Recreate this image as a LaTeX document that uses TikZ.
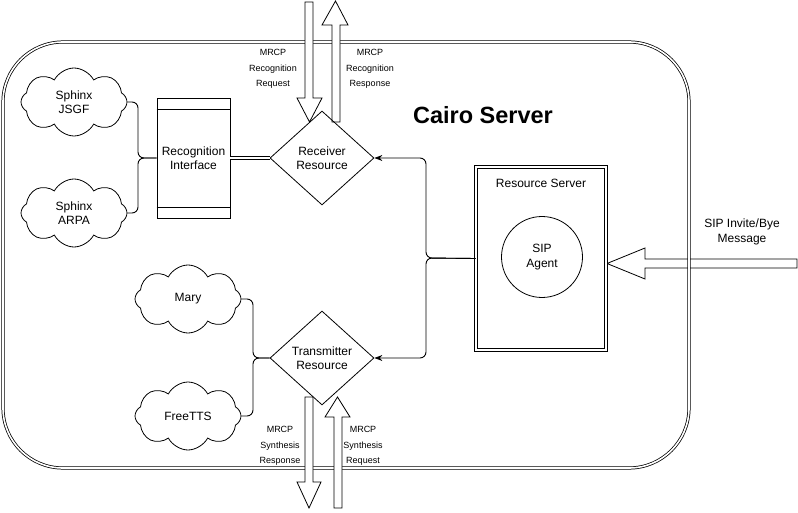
\documentclass[tikz,border=0pt]{standalone}
\usepackage{fontspec}
\setmainfont{Liberation Sans}
\usetikzlibrary{shapes.geometric,shapes.symbols,arrows.meta}
\begin{document}
\begin{tikzpicture}[x=1pt,y=-1pt,
 base/.style={font=\fontsize{12}{14.5}\selectfont, align=center},
 cloudnode/.style={base, draw, cloud, cloud puffs=8, cloud puff arc=125, cloud ignores aspect, minimum width=106pt, minimum height=68pt, inner sep=0pt, line width=0.8pt},
 res/.style={base, draw, diamond, inner sep=0pt, minimum width=104pt, minimum height=94pt, line width=0.8pt},
 conn/.style={line width=0.9pt, rounded corners=6pt},
 arr/.style={conn, -{Stealth[length=8pt,width=6pt]}},
 dbl/.style={double, double distance=1.6pt, line width=0.75pt},
 bigarrow/.style={draw, fill=white, line width=0.8pt, line join=miter},
 small/.style={font=\fontsize{9}{15.5}\selectfont, align=center},
]
\useasboundingbox (0,0) rectangle (798,513);
% SIP message arrow (under the border)
\draw[bigarrow] (607,263.5) -- (645,248) -- (645,259) -- (797,259) -- (797,268) -- (645,268) -- (645,279) -- cycle;
% outer container
\node[draw, dbl, rounded corners=60pt, minimum width=686pt, minimum height=426pt, inner sep=0pt] (cairo) at (346,255) {};
\node[font=\bfseries\fontsize{23.5}{28}\selectfont] (title) at (483,115) {Cairo Server};
% MRCP arrows
\draw[bigarrow] (305,2) -- (313,2) -- (313,98) -- (322,98) -- (309.5,122) -- (297,98) -- (305,98) -- cycle;
\draw[bigarrow] (332,122) -- (332,25) -- (322,25) -- (335.5,1) -- (348,25) -- (340,25) -- (340,122) -- cycle;
\draw[bigarrow] (305,397) -- (313,397) -- (313,482) -- (321,482) -- (309,508) -- (297,482) -- (305,482) -- cycle;
\draw[bigarrow] (334,508) -- (334,417) -- (325,417) -- (337.5,397) -- (350,417) -- (342,417) -- (342,508) -- cycle;
\node[small] (l1) at (273,69) {MRCP\\Recognition\\Request};
\node[small] (l2) at (370,69) {MRCP\\Recognition\\Response};
\node[small] (l3) at (280,446) {MRCP\\Synthesis\\Response};
\node[small] (l4) at (363,446) {MRCP\\Synthesis\\Request};
\node[base] (siplbl) at (742,232) {SIP Invite/Bye\\Message};
% nodes
\node[cloudnode] (sj) at (74,102) {Sphinx\\JSGF};
\node[cloudnode] (sa) at (74,213) {Sphinx\\ARPA};
\node[cloudnode] (mary) at (188,299) {Mary};
\node[cloudnode] (ftts) at (188,416) {FreeTTS};
\node[base, draw, minimum width=73pt, minimum height=120pt, inner sep=0pt, line width=0.9pt] (ri) at (193.5,158) {Recognition\\Interface};
\draw[line width=0.9pt] ([yshift=-12pt]ri.north west) -- ([yshift=-12pt]ri.north east);
\draw[line width=0.9pt] ([yshift=11pt]ri.south west) -- ([yshift=11pt]ri.south east);
\node[res] (rx) at (322,158) {Receiver\\Resource};
\node[res] (tx) at (322,358) {Transmitter\\Resource};
\node[draw, dbl, minimum width=130pt, minimum height=183pt, inner sep=0pt] (rsrv) at (541,258.5) {};
\node[base] (rsrvt) at (541,183) {Resource Server};
\node[base, draw, circle, minimum size=81pt, inner sep=0pt, line width=0.8pt] (sip) at (542,257) {SIP\\Agent};
% connectors
\coordinate (j1) at (138,158);
\coordinate (j2) at (253,358);
\coordinate (j3) at (426,258);
\draw[conn] (sj.east) -| (j1) -- (ri.west);
\draw[conn] (sa.east) -| (j1) -- (ri.west);
\draw[dbl] (ri.east) -- (rx.west);
\draw[conn] (mary.east) -| (j2) -- (tx.west);
\draw[conn] (ftts.east) -| (j2) -- (tx.west);
\draw[arr] (rsrv.west) -- (j3) |- (rx.east);
\draw[arr] (rsrv.west) -- (j3) |- (tx.east);
\end{tikzpicture}
\end{document}
